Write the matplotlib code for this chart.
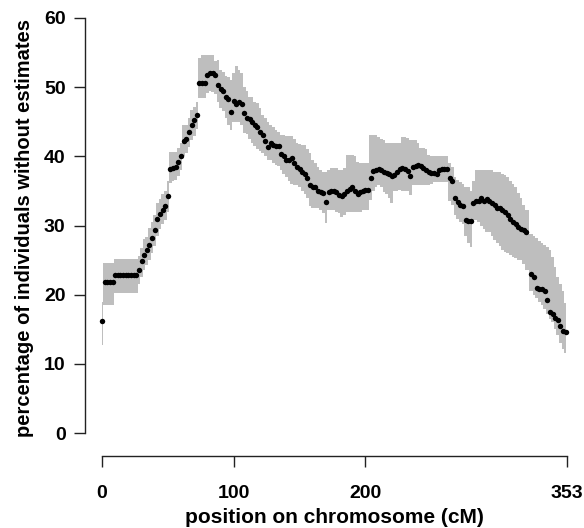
import numpy as np
import matplotlib
matplotlib.use("Agg")
import matplotlib.pyplot as plt

# positions along the chromosome (cM) where the estimate is plotted
pos = [0, 2, 4, 6, 8, 10, 12, 14, 16, 18, 20, 22, 24, 26, 28, 30, 32, 34, 36, 38,
       40, 42, 44, 46, 48, 50, 52, 54, 56, 58, 60, 62, 64, 66, 68, 70, 72, 74, 76, 78,
       80, 82, 84, 86, 88, 90, 92, 94, 96, 98, 100, 102, 104, 106, 108, 110, 112, 114, 116, 118,
       120, 122, 124, 126, 128, 130, 132, 134, 136, 138, 140, 142, 144, 146, 148, 150, 152, 154, 156, 158,
       160, 162, 164, 166, 168, 170, 172, 174, 176, 178, 180, 182, 184, 186, 188, 190, 192, 194, 196, 198,
       200, 202, 204, 206, 208, 210, 212, 214, 216, 218, 220, 222, 224, 226, 228, 230, 232, 234, 236, 238,
       240, 242, 244, 246, 248, 250, 252, 254, 256, 258, 260, 262, 264, 266, 268, 270, 272, 274, 276, 278,
       280, 282, 284, 286, 288, 290, 292, 294, 296, 298, 300, 302, 304, 306, 308, 310, 312, 314, 316, 318,
       320, 322, 326, 328, 330, 332, 334, 336, 338, 340, 342, 344, 346, 348, 350, 352]

# percentage of individuals without estimates
pct = [16.2, 21.8, 21.8, 21.8, 21.8, 22.8, 22.8, 22.8, 22.8, 22.8, 22.8, 22.8, 22.8, 22.8, 23.6, 24.8, 25.8, 26.4, 27.2, 28.2,
       29.3, 31.0, 31.6, 32.2, 32.8, 34.2, 38.2, 38.3, 38.5, 39.2, 40.0, 42.2, 42.5, 43.5, 44.5, 45.2, 46.0, 50.6, 50.6, 50.6,
       51.8, 52.0, 52.0, 51.8, 50.3, 49.8, 49.4, 48.6, 48.3, 46.4, 48.0, 47.6, 47.8, 47.5, 46.2, 45.5, 45.4, 44.9, 44.6, 44.3,
       43.5, 43.1, 42.2, 41.4, 41.9, 41.6, 41.5, 41.5, 40.3, 40.0, 39.5, 39.4, 39.8, 39.0, 38.5, 38.2, 37.8, 37.4, 36.8, 35.8,
       35.6, 35.5, 35.0, 34.9, 34.7, 33.4, 34.8, 35.0, 35.0, 34.8, 34.4, 34.3, 34.5, 35.0, 35.3, 35.5, 35.0, 34.5, 34.8, 35.0,
       35.2, 35.2, 36.8, 37.9, 38.0, 38.1, 38.0, 37.8, 37.6, 37.4, 37.1, 37.3, 37.8, 38.2, 38.3, 38.1, 37.9, 37.1, 38.5, 38.6,
       38.7, 38.6, 38.3, 38.0, 37.8, 37.6, 37.6, 37.5, 38.0, 38.2, 38.2, 38.2, 36.8, 36.5, 34.0, 33.4, 33.0, 32.8, 30.8, 30.6,
       30.7, 33.3, 33.6, 33.6, 34.0, 33.5, 33.8, 33.5, 33.2, 33.0, 32.6, 32.5, 32.3, 32.0, 31.5, 31.0, 30.5, 30.2, 29.8, 29.5,
       29.3, 29.1, 23.0, 22.5, 20.9, 20.8, 20.8, 20.6, 19.2, 17.5, 17.2, 16.6, 16.3, 15.5, 14.8, 14.6]

# lower / upper edge of the grey band
lo = [12.7, 18.5, 18.5, 18.5, 18.5, 20.2, 20.2, 20.2, 20.2, 20.2, 20.2, 20.2, 20.2, 20.2, 21.5, 22.5, 23.5, 24.3, 25.0, 26.0,
      27.0, 28.5, 29.5, 30.2, 30.8, 32.0, 36.2, 36.4, 36.6, 37.2, 38.0, 40.0, 40.5, 41.3, 42.3, 43.0, 44.0, 48.5, 48.5, 48.5,
      49.2, 49.5, 49.3, 49.0, 47.8, 47.0, 46.5, 45.5, 44.5, 43.8, 45.0, 45.0, 45.0, 44.5, 43.4, 43.2, 42.5, 42.0, 41.5, 41.0,
      40.8, 40.5, 40.0, 39.5, 39.4, 39.0, 38.8, 38.6, 38.0, 37.5, 37.0, 36.5, 36.0, 35.8, 35.8, 35.6, 35.0, 34.5, 34.0, 32.8,
      32.5, 32.5, 32.5, 32.2, 31.8, 30.4, 32.2, 32.2, 32.2, 32.0, 31.8, 31.2, 31.5, 32.0, 32.0, 32.0, 32.0, 32.0, 32.0, 32.2,
      32.2, 32.2, 33.7, 35.0, 35.5, 35.8, 35.5, 34.8, 34.5, 34.0, 33.2, 35.0, 35.0, 35.2, 35.0, 35.0, 35.0, 34.4, 35.8, 35.8,
      35.8, 35.8, 35.8, 35.8, 35.8, 36.0, 36.3, 36.3, 36.3, 36.3, 36.3, 36.3, 33.5, 33.0, 31.5, 31.0, 30.5, 30.2, 28.5, 27.5,
      26.9, 30.8, 30.8, 30.5, 30.0, 29.5, 29.0, 29.0, 28.5, 27.9, 27.5, 27.0, 26.5, 26.2, 26.0, 25.8, 25.5, 25.3, 25.0, 25.0,
      24.5, 23.5, 20.5, 20.0, 19.5, 19.0, 18.5, 18.0, 17.2, 16.5, 16.0, 15.0, 14.2, 13.0, 12.2, 11.6]

hi = [19.0, 24.6, 24.6, 24.6, 24.6, 25.2, 25.2, 25.2, 25.2, 25.2, 25.2, 25.2, 25.2, 25.2, 25.6, 26.8, 28.0, 28.4, 29.6, 30.5,
      31.5, 33.2, 33.8, 34.5, 35.0, 36.5, 40.6, 40.6, 40.6, 41.2, 42.0, 44.5, 44.6, 45.6, 46.7, 47.2, 47.8, 54.2, 54.6, 54.6,
      54.6, 54.6, 54.6, 53.8, 53.9, 52.5, 52.2, 51.6, 51.4, 51.0, 52.0, 53.0, 52.5, 52.0, 50.0, 49.5, 48.6, 48.6, 47.8, 47.7,
      47.0, 46.0, 45.5, 45.0, 44.6, 44.2, 43.8, 43.5, 43.1, 43.1, 43.0, 43.0, 43.0, 42.5, 42.0, 41.8, 41.6, 41.6, 41.0, 40.5,
      39.5, 39.0, 38.5, 38.0, 37.7, 37.7, 38.0, 38.3, 38.3, 38.3, 38.0, 38.0, 38.3, 40.2, 40.2, 40.2, 40.0, 39.2, 39.0, 39.0,
      39.0, 39.0, 43.1, 43.1, 43.1, 42.8, 42.5, 42.3, 42.0, 41.9, 41.9, 42.0, 42.0, 42.0, 42.8, 42.8, 42.6, 42.3, 42.3, 42.3,
      42.0, 41.2, 41.2, 41.0, 40.2, 40.0, 40.0, 40.0, 40.0, 40.0, 40.0, 40.0, 39.0, 38.5, 37.0, 36.6, 36.3, 36.0, 35.5, 35.5,
      35.0, 36.5, 38.0, 38.0, 38.0, 38.0, 38.0, 38.0, 38.0, 37.8, 37.8, 37.8, 37.5, 37.3, 37.0, 36.5, 36.0, 35.5, 34.7, 34.0,
      33.0, 32.2, 28.8, 28.5, 28.2, 27.8, 27.5, 27.2, 26.9, 26.5, 25.5, 24.0, 22.5, 21.5, 20.5, 18.8]

x_ticks = [0, 100, 200, 353]
y_ticks = [0, 10, 20, 30, 40, 50, 60]

plt.rcParams['font.family'] = ['Liberation Sans', 'DejaVu Sans']

W, H = 584, 528
fig = plt.figure(figsize=(W / 100, H / 100), dpi=100)
# plot region edges in pixels (axis lines of the reference)
left_px, bottom_px, right_px, top_px = 85, 456, 584, 0
ax = fig.add_axes([left_px / W, 1 - bottom_px / H, (right_px - left_px) / W, (bottom_px - top_px) / H])

# data -> pixel mapping
x0_px, xscale = 102, 465 / 353
y0_px, yscale = 433, 415 / 60
ax.set_xlim((left_px - x0_px) / xscale, (right_px - x0_px) / xscale)
ax.set_ylim((y0_px - bottom_px) / yscale, (y0_px - top_px) / yscale)

ax.fill_between(pos, lo, hi, step='mid', color='#bebebe', linewidth=0)
ax.plot(pos, pct, 'o', color='black', markersize=3.9, markeredgewidth=0)

for s in ['top', 'right']:
    ax.spines[s].set_visible(False)
ax.spines['left'].set_bounds(0, 60)
ax.spines['bottom'].set_bounds(0, 353)
for s in ['left', 'bottom']:
    ax.spines[s].set_linewidth(1.0)
    ax.spines[s].set_color('#222222')

ax.set_xticks(x_ticks)
ax.set_yticks(y_ticks)
ax.tick_params(direction='out', length=8, width=1.0, color='#222222', labelsize=14)
ax.tick_params(axis='x', pad=13)
ax.tick_params(axis='y', pad=6)
for lab in ax.get_xticklabels() + ax.get_yticklabels():
    lab.set_fontweight('bold')

ax.set_xlabel('position on chromosome (cM)', fontsize=15, fontweight='bold', labelpad=4)
ax.set_ylabel('percentage of individuals without estimates', fontsize=14.5, fontweight='bold', labelpad=7)

fig.savefig('out.png', dpi=100)
